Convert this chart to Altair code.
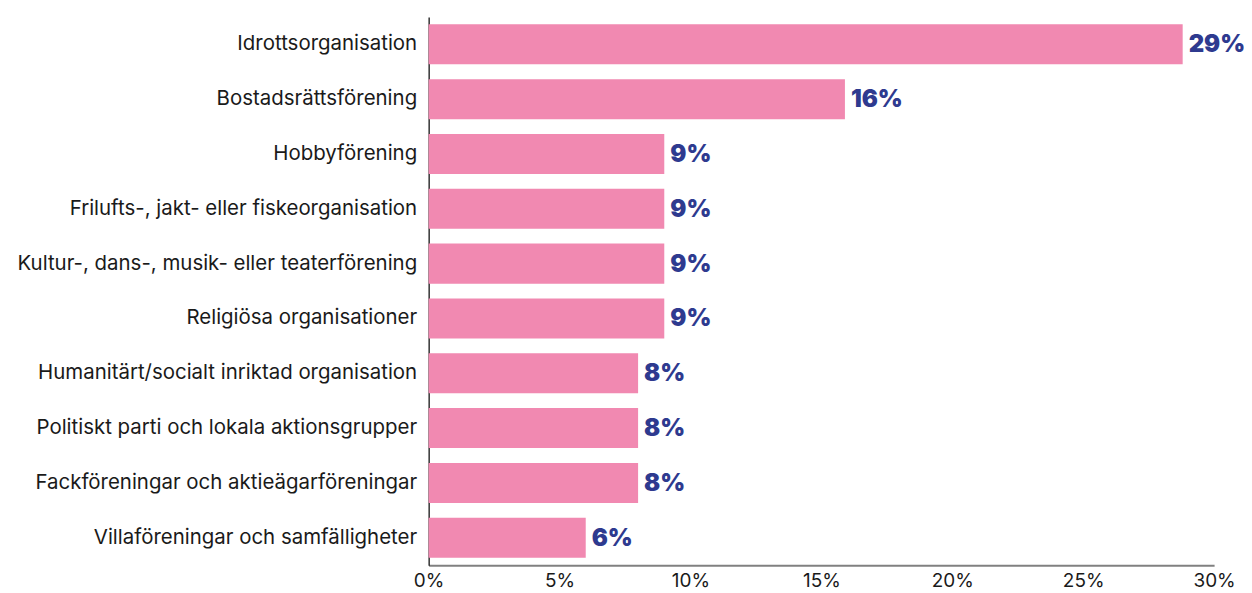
import altair as alt
import pandas as pd

categories = [
    "Idrottsorganisation",
    "Bostadsrättsförening",
    "Hobbyförening",
    "Frilufts-, jakt- eller fiskeorganisation",
    "Kultur-, dans-, musik- eller teaterförening",
    "Religiösa organisationer",
    "Humanitärt/socialt inriktad organisation",
    "Politiskt parti och lokala aktionsgrupper",
    "Fackföreningar och aktieägarföreningar",
    "Villaföreningar och samfälligheter",
]
values = [28.8, 15.9, 9, 9, 9, 9, 8, 8, 8, 6]
labels = ["29%", "16%", "9%", "9%", "9%", "9%", "8%", "8%", "8%", "6%"]
ticks = [0, 5, 10, 15, 20, 25, 30]

df = pd.DataFrame({"cat": categories, "val": values, "lab": labels})

y = alt.Y("cat:N", sort=categories, title=None,
          scale=alt.Scale(paddingInner=0.27, paddingOuter=0.135),
          axis=alt.Axis(labelFont="Inter", labelFontSize=20.5, labelColor="#1a1a1a",
                        labelPadding=12, ticks=False, domainColor="#000000",
                        domainWidth=1.2, labelLimit=500))

bars = alt.Chart(df).mark_bar(color="#F189B1").encode(
    x=alt.X("val:Q", title=None,
            scale=alt.Scale(domain=[0, 30], nice=False),
            axis=alt.Axis(values=ticks, labelExpr="datum.value + '%'",
                          labelFont="Inter", labelFontSize=19, labelColor="#1a1a1a",
                          labelFlush=False, labelBaseline="middle",
                          ticks=False, grid=False, domainColor="#808080", domainWidth=2,
                          labelPadding=15)),
    y=y,
)

text = alt.Chart(df).mark_text(align="left", baseline="middle", dx=6, dy=1,
                               font="Inter", fontSize=24, fontWeight=900,
                               color="#2E3A8F").encode(
    x="val:Q", y=alt.Y("cat:N", sort=categories), text="lab:N")

chart = (bars + text).properties(
    width=788, height=550,
    autosize=alt.AutoSizeParams(type="none"),
    padding={"left": 422, "top": 8, "right": 30, "bottom": 25},
).configure_view(stroke=None)

chart.save("out.html", embed_options={"renderer": "svg", "actions": False})
